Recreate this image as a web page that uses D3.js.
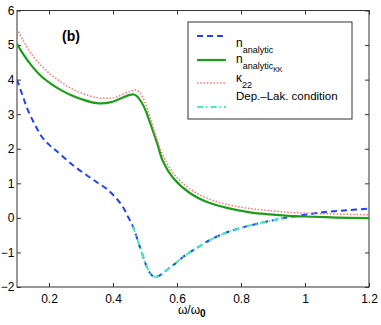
<!DOCTYPE html>
<html><head><meta charset="utf-8">
<script src="https://cdn.jsdelivr.net/npm/d3@7"></script>
<style>body{margin:0;background:#fff}svg{display:block;font-family:"Liberation Sans",Arial,Helvetica,sans-serif}</style>
</head><body>
<script>
const xTicks = [0.2, 0.4, 0.6, 0.8, 1, 1.2];
const yTicks = [-2, -1, 0, 1, 2, 3, 4, 5, 6];

const greenX = [0.1,0.12,0.14,0.17,0.203,0.235,0.266,0.3,0.349,0.39,0.42,0.453,0.465,0.475,0.49,0.5,0.516,0.5375,0.556,0.5875,0.64,0.694,0.756,0.828,0.89,0.95,1.0,1.1,1.2];
const greenY = [5.04,4.73,4.47,4.15,3.90,3.71,3.56,3.44,3.32,3.34,3.44,3.56,3.57,3.52,3.33,3.15,2.75,2.17,1.64,1.16,0.72,0.46,0.29,0.16,0.10,0.06,0.04,0.01,-0.01];

const redX = [0.1,0.12,0.14,0.17,0.203,0.235,0.266,0.3,0.349,0.38,0.41,0.453,0.47,0.484,0.5,0.516,0.531,0.556,0.5875,0.64,0.694,0.756,0.828,0.89,0.95,1.02,1.1,1.2];
const redY = [5.47,5.12,4.81,4.46,4.17,3.95,3.76,3.62,3.48,3.46,3.50,3.66,3.70,3.62,3.35,2.92,2.45,1.82,1.30,0.84,0.57,0.39,0.27,0.21,0.16,0.13,0.11,0.09];

const blueX = [0.1,0.117,0.134,0.156,0.178,0.2,0.219,0.25,0.281,0.32,0.353,0.38,0.406,0.43,0.447,0.4625,0.484,0.506,0.52,0.531,0.545,0.569,0.6,0.619,0.66,0.703,0.75,0.8,0.85,0.9,0.9375,1.0,1.0625,1.13,1.2];
const blueY = [4.0,3.55,3.12,2.70,2.34,2.12,1.97,1.72,1.48,1.22,1.01,0.84,0.61,0.33,0.03,-0.25,-0.84,-1.42,-1.65,-1.71,-1.67,-1.50,-1.28,-1.13,-0.88,-0.64,-0.44,-0.29,-0.17,-0.07,0.0,0.09,0.17,0.22,0.27];

const cyanX = [0.4625,0.484,0.506,0.52,0.531,0.545,0.569,0.6,0.619,0.66,0.703,0.75,0.8,0.85,0.9,0.9375];
const cyanY = [-0.25,-0.84,-1.42,-1.65,-1.71,-1.67,-1.50,-1.28,-1.13,-0.88,-0.64,-0.44,-0.29,-0.17,-0.07,0.0];

const W = 381, H = 325;
const L = 17, R = 369, T = 10.5, B = 287;
const svg = d3.select("body").append("svg").attr("width", W).attr("height", H);
const x = d3.scaleLinear().domain([0.1, 1.2]).range([L, R]);
const y = d3.scaleLinear().domain([-2, 6]).range([B, T]);

const axisCol = "#333";
svg.append("rect").attr("x", L).attr("y", T).attr("width", R - L).attr("height", B - T)
  .attr("fill", "none").attr("stroke", axisCol).attr("stroke-width", 1);

const tl = 4;
const gb = svg.append("g").attr("transform", `translate(0,${B})`)
  .call(d3.axisBottom(x).tickValues(xTicks).tickSize(-tl).tickPadding(7).tickFormat(d3.format("")));
const gt = svg.append("g").attr("transform", `translate(0,${T})`)
  .call(d3.axisTop(x).tickValues(xTicks).tickSize(-tl).tickFormat(""));
const gl = svg.append("g").attr("transform", `translate(${L},0)`)
  .call(d3.axisLeft(y).tickValues(yTicks).tickSize(-tl).tickPadding(3).tickFormat(d => d < 0 ? "\u2212" + Math.abs(d) : d));
const gr = svg.append("g").attr("transform", `translate(${R},0)`)
  .call(d3.axisRight(y).tickValues(yTicks).tickSize(-tl).tickFormat(""));
[gb, gt, gl, gr].forEach(g => {
  g.select(".domain").remove();
  g.selectAll(".tick line").attr("stroke", axisCol);
  g.selectAll("text").attr("fill", "#000").style("font-size", "12px")
    .style("font-family", '"Liberation Sans",Arial,sans-serif');
});
gl.selectAll("text").attr("dx", "0.5");

function series(xs, ys) { return xs.map((v, i) => [v, ys[i]]); }
const line = d3.line().x(d => x(d[0])).y(d => y(d[1])).curve(d3.curveCatmullRom.alpha(0.5));

svg.append("clipPath").attr("id", "c").append("rect")
  .attr("x", L).attr("y", T).attr("width", R - L).attr("height", B - T);
const pg = svg.append("g").attr("clip-path", "url(#c)");

const styles = {
  blue: {c: "#2040ff", w: 2, d: "6,4"},
  green: {c: "#1c9e1c", w: 2.2, d: null},
  red: {c: "#ff7070", w: 1.5, d: "1.5,1.8"},
  cyan: {c: "#44f0b8", w: 2, d: "6,3,1.5,3"}
};
function draw(data, s) {
  const p = pg.append("path").datum(data).attr("d", line).attr("fill", "none")
    .attr("stroke", s.c).attr("stroke-width", s.w);
  if (s.d) p.attr("stroke-dasharray", s.d);
}
draw(series(blueX, blueY), styles.blue);
draw(series(greenX, greenY), styles.green);
draw(series(redX, redY), styles.red);
draw(series(cyanX, cyanY), styles.cyan);

svg.append("text").attr("x", 62).attr("y", 41).text("(b)")
  .style("font-size", "14px").style("font-weight", "bold");

const lg = svg.append("g");
lg.append("rect").attr("x", 188).attr("y", 22).attr("width", 164).attr("height", 97)
  .attr("fill", "#fff").attr("stroke", axisCol).attr("stroke-width", 1);
const rows = [
  {s: styles.blue, ly: 36},
  {s: styles.green, ly: 60},
  {s: styles.red, ly: 83},
  {s: styles.cyan, ly: 107}
];
rows.forEach(r => {
  const l = lg.append("line").attr("x1", 197).attr("x2", 226).attr("y1", r.ly).attr("y2", r.ly)
    .attr("stroke", r.s.c).attr("stroke-width", r.s.w);
  if (r.s.d) l.attr("stroke-dasharray", r.s.d);
});
const tx = 236;
const t1 = lg.append("text").attr("x", tx).attr("y", 47).style("font-size", "12px");
t1.append("tspan").text("n");
t1.append("tspan").attr("dy", 6).style("font-size", "9px").text("analytic");
const t2 = lg.append("text").attr("x", tx).attr("y", 63).style("font-size", "12px");
t2.append("tspan").text("n");
t2.append("tspan").attr("dy", 6).style("font-size", "9px").text("analytic");
t2.append("tspan").attr("dy", 3).style("font-size", "7px").text("KK");
const t3 = lg.append("text").attr("x", tx).attr("y", 82).style("font-size", "12px");
t3.append("tspan").text("\u03ba");
t3.append("tspan").attr("dy", 6).style("font-size", "9px").text("22");
lg.append("text").attr("x", tx).attr("y", 100).text("Dep.\u2013Lak. condition").style("font-size", "11.5px");

const xl = svg.append("text").attr("x", 178).attr("y", 314).style("font-size", "12px");
xl.append("tspan").text("\u03c9/\u03c9");
xl.append("tspan").attr("dy", 3).style("font-size", "10px").style("font-weight", "bold").text("0");
</script>
</body></html>
